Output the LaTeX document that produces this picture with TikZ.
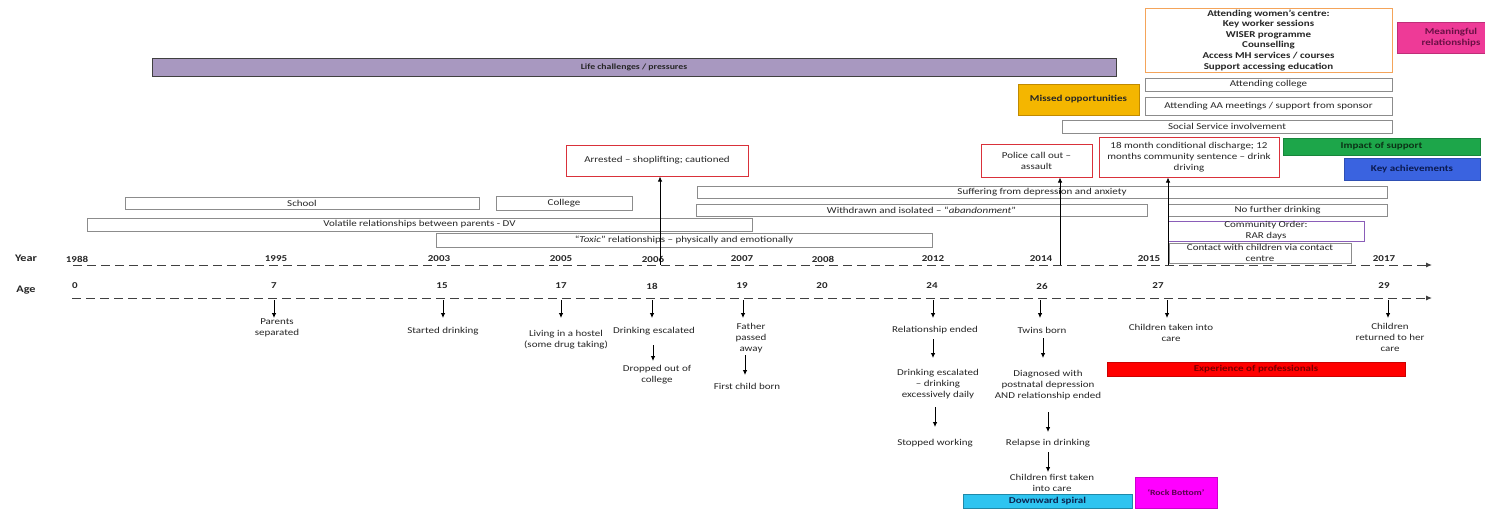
\documentclass[tikz,border=0pt]{standalone}
\usepackage{fontspec}
\setmainfont{Carlito}[FakeStretch=1.22]
\usetikzlibrary{arrows.meta,calc}
\definecolor{txt}{HTML}{262626}
\definecolor{boxgray}{HTML}{8C8C8C}
\definecolor{lifefill}{HTML}{A898C0}
\definecolor{redline}{HTML}{D9313A}
\definecolor{orangeline}{HTML}{F4A45A}
\definecolor{meanfill}{HTML}{EE3A97}
\definecolor{meantext}{HTML}{6A1045}
\definecolor{missfill}{HTML}{F4B600}
\definecolor{missline}{HTML}{C08A00}
\definecolor{impfill}{HTML}{1DA64A}
\definecolor{imptext}{HTML}{0B3216}
\definecolor{keyfill}{HTML}{3A63E0}
\definecolor{keytext}{HTML}{0B1A50}
\definecolor{expfill}{HTML}{FF0000}
\definecolor{exptext}{HTML}{7A0000}
\definecolor{downfill}{HTML}{2EC4F0}
\definecolor{downtext}{HTML}{0B2450}
\definecolor{rockfill}{HTML}{FF00FF}
\definecolor{rocktext}{HTML}{5A0050}
\definecolor{commline}{HTML}{8A5DB8}
\definecolor{dashcol}{HTML}{404040}
% box from corner (x1,y1) to (x2,y2), in pixel units
\newcommand\pxbox[7]{%
  \node[#1, minimum width={#5-#3}, minimum height={#6-#4}] (#2) at ({(#3+#5)/2},{(#4+#6)/2}) {#7};}
\begin{document}
\begin{tikzpicture}[x=1pt,y=-1pt,
  every node/.style={font=\fontsize{9}{11}\selectfont, text=txt, align=center, inner sep=0pt},
  gbox/.style={draw=boxgray, line width=0.8pt},
  rbox/.style={draw=redline, line width=1pt},
  cbox/.style={line width=0.8pt, font=\bfseries\fontsize{9}{11}\selectfont},
  lab/.style={font=\bfseries\fontsize{9}{11}\selectfont},
  arr/.style={-{Latex[length=5pt,width=4.5pt]}, line width=0.8pt, draw=black},
  dashline/.style={dash pattern=on 9pt off 5pt, line width=1pt, draw=dashcol, -{Latex[length=6pt,width=5pt]}}
]
\useasboundingbox (0,0) rectangle (1485,515);
\fill[white] (0,0) rectangle (1485,515);

% ---- top colored / bordered boxes
\pxbox{cbox, draw=darkgray, fill=lifefill, font=\bfseries\fontsize{8}{10}\selectfont}{life}{152}{58}{1116}{76}{Life challenges / pressures}
\pxbox{draw=orangeline, line width=1pt, font=\bfseries\fontsize{9}{10.6}\selectfont}{women}{1145}{8}{1392}{72}{Attending women’s centre:\\Key worker sessions\\WISER programme\\Counselling\\Access MH services / courses\\Support accessing education}
\pxbox{cbox, draw=meanfill!80!black, fill=meanfill, text=meantext}{mean}{1397}{22}{1505}{53}{Meaningful\\relationships}
\pxbox{gbox}{attcol}{1145}{78}{1392}{91}{Attending college}
\pxbox{cbox, draw=missline, fill=missfill}{missed}{1018}{84}{1139}{115}{Missed opportunities}
\pxbox{gbox}{aa}{1145}{97}{1392}{115}{Attending AA meetings / support from sponsor}
\pxbox{gbox}{social}{1062}{120}{1392}{133}{Social Service involvement}
\pxbox{rbox}{police}{981}{144}{1092}{177}{Police call out –\\assault}
\pxbox{rbox}{eighteen}{1099}{137}{1279}{177}{18 month conditional discharge; 12\\months community sentence – drink\\driving}
\pxbox{cbox, draw=impfill!80!black, fill=impfill, text=imptext}{impact}{1283}{138}{1480}{155}{Impact of support}
\pxbox{cbox, draw=keyfill!80!black, fill=keyfill, text=keytext}{keyach}{1344}{158}{1480}{180}{Key achievements}
\pxbox{rbox}{arrested}{566}{145}{748}{176}{Arrested – shoplifting; cautioned}

% ---- life-course bars
\pxbox{gbox}{suffer}{697}{186}{1387}{198}{Suffering from depression and anxiety}
\pxbox{gbox}{school}{125}{197}{479}{209}{School}
\pxbox{gbox}{college}{496}{196}{632}{210}{College}
\pxbox{gbox}{withdrawn}{696}{204}{1147}{216}{Withdrawn and isolated – “\textit{abandonment}”}
\pxbox{gbox}{nofurther}{1168}{204}{1387}{216}{No further drinking}
\pxbox{gbox}{volatile}{87}{218}{752}{231}{Volatile relationships between parents - DV}
\pxbox{draw=commline, line width=1pt}{community}{1168}{221}{1364}{241}{Community Order:\\RAR days}
\pxbox{gbox}{toxic}{436}{233}{932}{247}{“\textit{Toxic}” relationships – physically and emotionally}
\pxbox{gbox}{contact}{1169}{243}{1351}{263}{Contact with children via contact\\centre}

% ---- axes
\coordinate (yS) at (73,265); \coordinate (yE) at (1432,265);
\coordinate (aS) at (72,298); \coordinate (aE) at (1432,298);
\draw[dashline] (yS) -- (yE);
\draw[dashline] (aS) -- (aE);
\node[lab, font=\bfseries\fontsize{10}{12}\selectfont] (yearlab) at (26,258) {Year};
\node[lab, font=\bfseries\fontsize{10}{12}\selectfont] (agelab) at (26,290) {Age};
\foreach \x/\t in {77/1988,276/1995,439/2003,561/2005,653/2006,742/2007,823/2008,933/2012,1041/2014,1149/2015,1384/2017}
  \node[lab] (y\t) at (\x,259) {\t};
\foreach \x/\t in {75/0,274/7,442/15,561/17,652/18,742/19,822/20,932/24,1042/26,1158/27,1384/29}
  \node[lab] (a\t) at (\x,286) {\t};

% ---- up arrows to incidents
\coordinate (u1) at (660,265);
\coordinate (u2) at (1060,265);
\coordinate (u3) at (1168,265);
\draw[arr] (u1) -- (u1 |- arrested.south);
\draw[arr] (u2) -- (u2 |- police.south);
\draw[arr] (u3) -- (u3 |- eighteen.south);

% ---- events below the age line
\foreach \x in {274,443,561,652,743,933,1040,1167,1388} {
  \coordinate (d\x) at (\x,300);
  \draw[arr] (d\x) -- ++(0,18);
}
\node (sep) at (277,327.5) {Parents\\separated};
\node (start) at (443,331) {Started drinking};
\node (hostel) at (566,340) {Living in a hostel\\(some drug taking)};
\node (esc1) at (654,331) {Drinking escalated};
\node (drop) at (657,375) {Dropped out of\\college};
\node (father) at (751,338) {Father\\passed\\away};
\node (first) at (747,386) {First child born};
\node (relend) at (935,330) {Relationship ended};
\node (esc2) at (938,384) {Drinking escalated\\– drinking\\excessively daily};
\node (stopped) at (935,443) {Stopped working};
\node (twins) at (1042,330) {Twins born};
\node (diag) at (1048,385) {Diagnosed with\\postnatal depression\\AND relationship ended};
\node (relapse) at (1048,443) {Relapse in drinking};
\node (childfirst) at (1052,482.5) {Children first taken\\into care};
\node (taken) at (1171,332.5) {Children taken into\\care};
\node (returned) at (1390,337) {Children\\returned to her\\care};

\draw[arr] ($(esc1)+(-1,14)$) -- ++(0,16);
\draw[arr] ($(father)+(-6,17)$) -- ++(0,20);
\draw[arr] ($(relend)+(-2,9)$) -- ++(0,19);
\draw[arr] ($(esc2)+(-3,23)$) -- ++(0,20);
\draw[arr] ($(twins)+(1,8)$) -- ++(0,20);
\draw[arr] ($(diag)+(0,27)$) -- ++(0,20);
\draw[arr] ($(relapse)+(0,9)$) -- ++(0,20);

% ---- bottom colored boxes
\pxbox{cbox, draw=expfill!80!black, fill=expfill, text=exptext}{exp}{1107}{362}{1405}{376}{Experience of professionals}
\pxbox{cbox, draw=downfill!70!black, fill=downfill, text=downtext}{down}{963}{494}{1132}{508}{Downward spiral}
\pxbox{cbox, draw=rockfill!80!black, fill=rockfill, text=rocktext, font=\bfseries\fontsize{8}{10}\selectfont}{rock}{1135}{477}{1217}{508}{‘Rock Bottom’}
\end{tikzpicture}
\end{document}
